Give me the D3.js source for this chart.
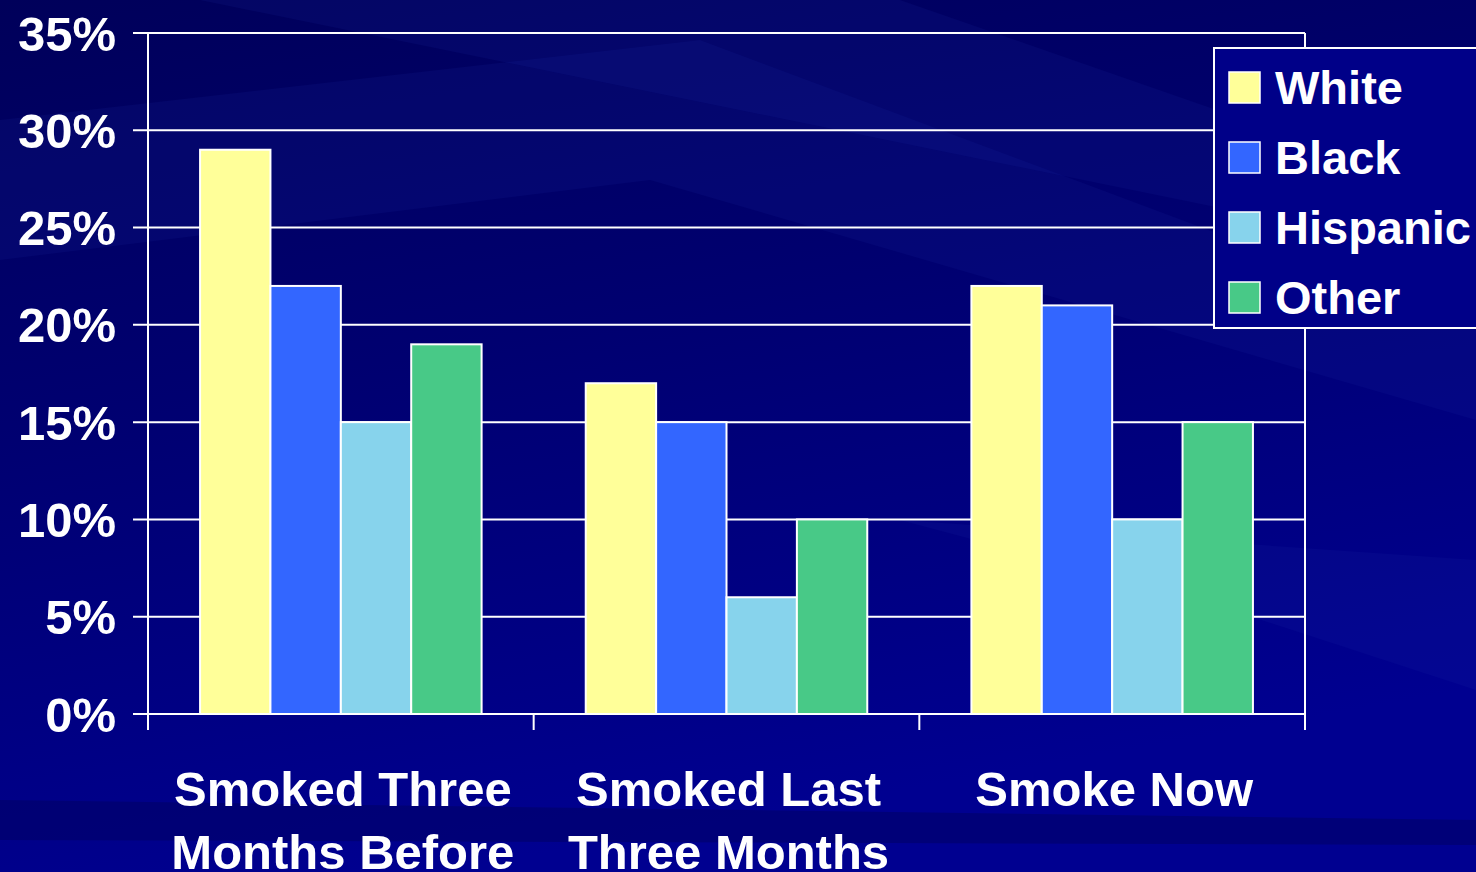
<!DOCTYPE html>
<html lang="en">
<head>
    <meta charset="UTF-8">
    <title>Smoking by race</title>
    <script src="https://d3js.org/d3.v7.min.js"></script>
    <style>
        body { margin: 0; background: #000080; }
        svg { display: block; }
        text { font-family: 'Liberation Sans', Arial, sans-serif; font-weight: bold; fill: white; }
    </style>
</head>
<body>
<script>
    const categories = [["Smoked Three", "Months Before"], ["Smoked Last", "Three Months"], ["Smoke Now"]];
    const seriesNames = ["White", "Black", "Hispanic", "Other"];
    const white = [29, 17, 22];
    const black = [22, 15, 21];
    const hispanic = [15, 6, 10];
    const other = [19, 10, 15];
    const yTicks = [0, 5, 10, 15, 20, 25, 30, 35];
    const colors = ["#FFFF99", "#3366FF", "#87D3EC", "#48C987"];

    const series = [white, black, hispanic, other];
    const W = 1476, H = 872;
    const margin = {top: 33, right: 171, bottom: 158, left: 148};
    const width = W - margin.left - margin.right,
          height = H - margin.top - margin.bottom;

    const svg = d3.select("body").append("svg")
        .attr("width", W)
        .attr("height", H);

    // background with diagonal streaks
    const defs = svg.append("defs");
    const grad = defs.append("linearGradient")
        .attr("id", "bg").attr("x1", 0).attr("y1", 0).attr("x2", 0.3).attr("y2", 1);
    grad.append("stop").attr("offset", 0).attr("stop-color", "#00005a");
    grad.append("stop").attr("offset", 0.45).attr("stop-color", "#000070");
    grad.append("stop").attr("offset", 1).attr("stop-color", "#000090");
    svg.append("rect").attr("width", W).attr("height", H).attr("fill", "url(#bg)");

    const streaks = [
        [[0, 120], [700, 40], [1476, 330], [1476, 420], [650, 180], [0, 260]],
        [[200, 0], [900, 0], [1476, 200], [1476, 260]],
        [[900, 520], [1476, 560], [1476, 690], [1200, 600]],
        [[0, 800], [1476, 820], [1476, 845], [0, 840]]
    ];
    svg.selectAll(".streak")
        .data(streaks)
        .enter().append("path")
        .attr("d", d => "M" + d.join("L") + "Z")
        .attr("fill", (d, i) => i === 3 ? "#000060" : "#2030b0")
        .attr("opacity", (d, i) => i === 3 ? 0.5 : 0.12);

    const g = svg.append("g")
        .attr("transform", `translate(${margin.left},${margin.top})`);

    const x0 = d3.scaleBand()
        .domain(d3.range(categories.length))
        .range([0, width])
        .paddingInner(0.27)
        .paddingOuter(0.135);

    const x1 = d3.scaleBand()
        .domain(d3.range(seriesNames.length))
        .range([0, x0.bandwidth()]);

    const y = d3.scaleLinear()
        .domain([0, 35])
        .range([height, 0]);

    // grid lines
    g.append("g")
        .selectAll("line")
        .data(yTicks)
        .enter().append("line")
        .attr("x1", -15).attr("x2", width)
        .attr("y1", d => y(d)).attr("y2", d => y(d))
        .attr("stroke", "white").attr("stroke-width", 2);

    // y tick labels
    g.append("g")
        .selectAll("text")
        .data(yTicks)
        .enter().append("text")
        .attr("x", -32)
        .attr("y", d => y(d))
        .attr("dy", "0.36em")
        .attr("text-anchor", "end")
        .style("font-size", "49px")
        .text(d => d + "%");

    // bars
    const groups = g.selectAll(".grp")
        .data(categories.map((c, i) => i))
        .enter().append("g")
        .attr("transform", i => `translate(${x0(i)},0)`);

    groups.selectAll("rect")
        .data(i => series.map((s, k) => ({k: k, v: s[i]})))
        .enter().append("rect")
        .attr("x", d => x1(d.k))
        .attr("y", d => y(d.v))
        .attr("width", x1.bandwidth())
        .attr("height", d => height - y(d.v))
        .attr("fill", d => colors[d.k])
        .attr("stroke", "white")
        .attr("stroke-width", 2);

    // axes frame
    const step = width / categories.length;
    g.append("line").attr("x1", 0).attr("x2", 0).attr("y1", 0).attr("y2", height + 16)
        .attr("stroke", "white").attr("stroke-width", 2);
    g.append("line").attr("x1", width).attr("x2", width).attr("y1", 0).attr("y2", height + 16)
        .attr("stroke", "white").attr("stroke-width", 2);
    g.selectAll(".xtick")
        .data(d3.range(1, categories.length))
        .enter().append("line")
        .attr("x1", d => d * step).attr("x2", d => d * step)
        .attr("y1", height).attr("y2", height + 16)
        .attr("stroke", "white").attr("stroke-width", 2);

    // x labels
    const xl = g.selectAll(".xlabel")
        .data(categories)
        .enter().append("text")
        .attr("text-anchor", "middle")
        .attr("transform", (d, i) => `translate(${(i + 0.5) * step + 2},${height + 92})`)
        .style("font-size", "49px");
    xl.selectAll("tspan")
        .data(d => d)
        .enter().append("tspan")
        .attr("x", 0)
        .attr("y", (d, i) => i * 63)
        .text(d => d);

    // legend
    const lg = svg.append("g").attr("transform", "translate(1214,48)");
    lg.append("rect")
        .attr("width", 300).attr("height", 280)
        .attr("fill", "#000088")
        .attr("stroke", "white").attr("stroke-width", 2);
    const items = lg.selectAll(".item")
        .data(seriesNames)
        .enter().append("g")
        .attr("transform", (d, i) => `translate(15,${39 + i * 70})`);
    items.append("rect")
        .attr("x", 0).attr("y", -15)
        .attr("width", 31).attr("height", 31)
        .attr("fill", (d, i) => colors[i])
        .attr("stroke", "white").attr("stroke-width", 1.5);
    items.append("text")
        .attr("x", 46)
        .attr("dy", "0.36em")
        .style("font-size", "47px")
        .text(d => d);
</script>
</body>
</html>
